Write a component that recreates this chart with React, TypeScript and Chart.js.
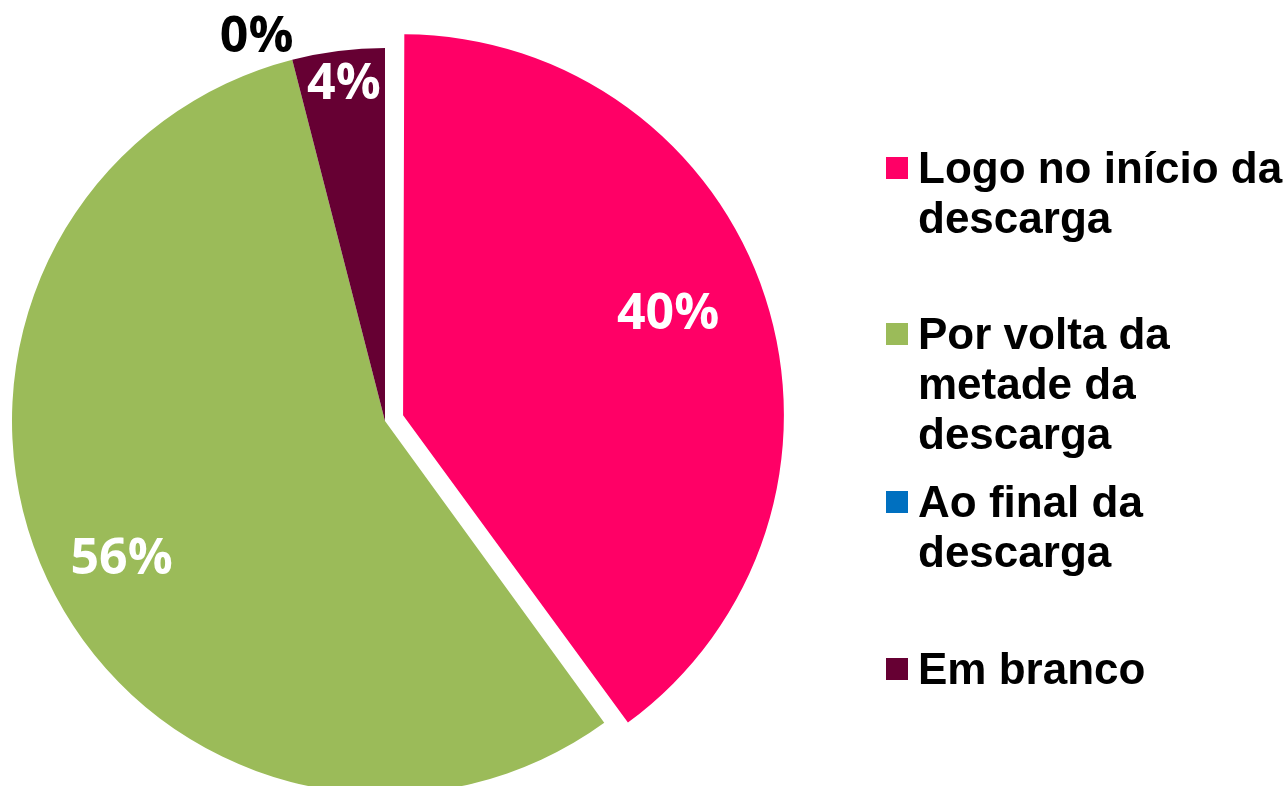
import React, { useEffect, useRef } from "react";
import { Chart, registerables } from "chart.js";

Chart.register(...registerables);

const categories = [
  "Logo no início da descarga",
  "Por volta da metade da descarga",
  "Ao final da descarga",
  "Em branco",
];
const legendLines = [
  ["Logo no início da", "descarga"],
  ["Por volta da", "metade da", "descarga"],
  ["Ao final da", "descarga"],
  ["Em branco"],
];
const values = [40, 56, 0, 4];
const percentLabels = ["40%", "56%", "0%", "4%"];
const colors = ["#FF0066", "#9BBB59", "#0070C0", "#660033"];
const labelColors = ["#FFFFFF", "#FFFFFF", "#000000", "#FFFFFF"];

// label placement relative to pie centre: radius factor, fraction of slice angle, extra angle (deg)
const placement = [
  { r: 0.814, t: 0.478, d: 0 },
  { r: 0.794, t: 0.49, d: 0 },
  { r: 1.09, t: 0.5, d: -4 },
  { r: 0.916, t: 0.52, d: 0 },
];

const labelPlugin = {
  id: "pctLabels",
  afterDatasetsDraw(chart: any) {
    const ctx = chart.ctx;
    const meta = chart.getDatasetMeta(0);
    ctx.save();
    ctx.font = "bold 50px 'Open Sans'";
    ctx.textAlign = "center";
    ctx.textBaseline = "middle";
    meta.data.forEach((arc: any, i: number) => {
      const p = arc.getProps(["x", "y", "startAngle", "endAngle", "outerRadius"], true);
      const pl = placement[i];
      const a = p.startAngle + (p.endAngle - p.startAngle) * pl.t + (pl.d * Math.PI) / 180;
      const rr = p.outerRadius * pl.r;
      ctx.fillStyle = labelColors[i];
      ctx.fillText(percentLabels[i], p.x + Math.cos(a) * rr, p.y + Math.sin(a) * rr + 3);
    });
    ctx.restore();
  },
};

export default function App() {
  const ref = useRef<HTMLCanvasElement>(null);
  useEffect(() => {
    const chart = new Chart(ref.current!, {
      type: "pie",
      data: {
        labels: categories,
        datasets: [
          {
            data: values,
            backgroundColor: colors,
            borderWidth: 0,
            offset: [76, 0, 0, 0],
            hoverOffset: 0,
            clip: false as any,
          } as any,
        ],
      },
      options: {
        animation: false,
        responsive: true,
        maintainAspectRatio: false,
        radius: 373,
        layout: { padding: { top: 56, right: 517, left: 0, bottom: 0 } },
        plugins: { legend: { display: false }, tooltip: { enabled: false } },
      } as any,
      plugins: [labelPlugin],
    });
    return () => chart.destroy();
  }, []);

  const markerTops = [157, 323, 491, 658];

  return (
    <div style={{ position: "fixed", left: 0, top: 0, width: 1287, height: 786, background: "#fff", overflow: "hidden" }}>
      <div style={{ position: "absolute", left: 0, top: 0, width: 1287, height: 786 }}>
        <canvas ref={ref} />
      </div>
      {legendLines.map((lines, i) => (
        <React.Fragment key={i}>
          <div
            style={{
              position: "absolute",
              left: 886,
              top: markerTops[i],
              width: 22,
              height: 22,
              background: colors[i],
            }}
          />
          <div
            style={{
              position: "absolute",
              left: 918,
              top: markerTops[i] + 26 - 40,
              fontFamily: "'Liberation Sans', Arial, sans-serif",
              fontWeight: 700,
              fontSize: 44,
              lineHeight: "50px",
              color: "#000",
              whiteSpace: "nowrap",
            }}
          >
            {lines.map((l, j) => (
              <div key={j}>{l}</div>
            ))}
          </div>
        </React.Fragment>
      ))}
    </div>
  );
}
